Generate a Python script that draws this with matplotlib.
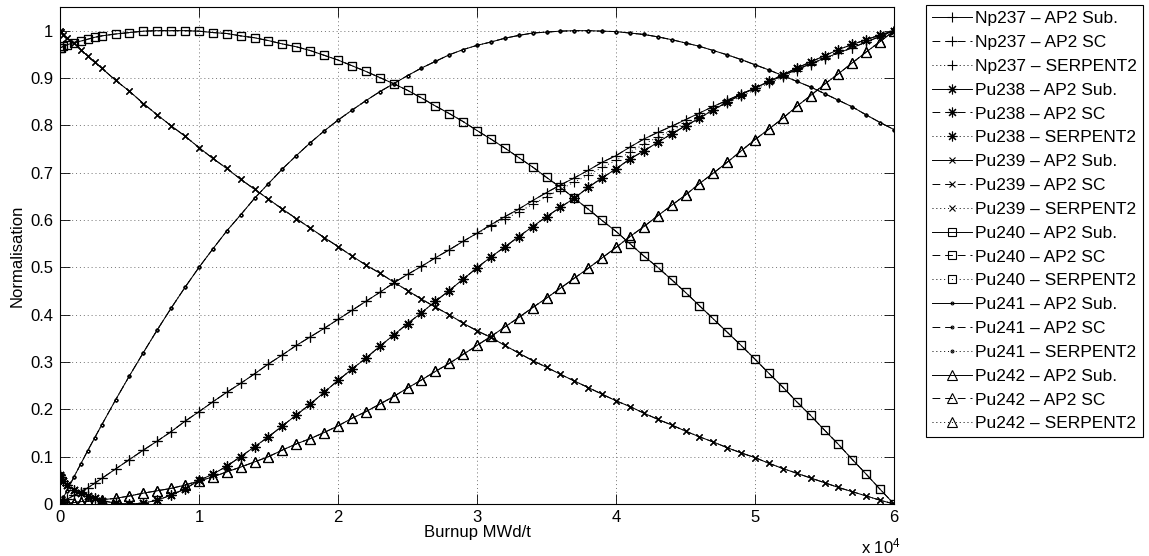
import matplotlib
matplotlib.use('Agg')
import matplotlib.pyplot as plt

plt.rcParams['font.family'] = ['Liberation Sans', 'DejaVu Sans']
plt.rcParams['font.size'] = 12
plt.rcParams['mathtext.default'] = 'regular'

# burnup steps (MWd/t)
burnup = [0, 50, 250, 500, 1000, 1500, 2000, 2500, 3000,
          4000, 5000, 6000, 7000, 8000, 9000, 10000, 11000, 12000, 13000,
          14000, 15000, 16000, 17000, 18000, 19000, 20000, 21000, 22000, 23000,
          24000, 25000, 26000, 27000, 28000, 29000, 30000, 31000, 32000, 33000,
          34000, 35000, 36000, 37000, 38000, 39000, 40000, 41000, 42000, 43000,
          44000, 45000, 46000, 47000, 48000, 49000, 50000, 51000, 52000, 53000,
          54000, 55000, 56000, 57000, 58000, 59000, 60000]

np237 = [0.0, 0.001, 0.005, 0.010, 0.018, 0.026, 0.034, 0.044, 0.054,
         0.074, 0.094, 0.114, 0.133, 0.153, 0.175, 0.195, 0.216, 0.236, 0.255,
         0.275, 0.296, 0.315, 0.335, 0.353, 0.371, 0.390, 0.409, 0.428, 0.447,
         0.467, 0.485, 0.502, 0.520, 0.537, 0.555, 0.572, 0.590, 0.607, 0.623,
         0.641, 0.658, 0.674, 0.689, 0.705, 0.722, 0.736, 0.754, 0.771, 0.785,
         0.798, 0.812, 0.826, 0.840, 0.853, 0.866, 0.879, 0.892, 0.905, 0.918,
         0.930, 0.942, 0.953, 0.964, 0.976, 0.988, 1.0]

np237_serpent = [0.0, 0.001, 0.005, 0.010, 0.018, 0.026, 0.034, 0.044, 0.054,
                 0.074, 0.094, 0.114, 0.133, 0.153, 0.175, 0.195, 0.216, 0.236, 0.255,
                 0.275, 0.296, 0.315, 0.335, 0.353, 0.371, 0.390, 0.409, 0.428, 0.447,
                 0.467, 0.485, 0.502, 0.520, 0.537, 0.555, 0.572, 0.587, 0.602, 0.617,
                 0.633, 0.649, 0.665, 0.680, 0.695, 0.711, 0.726, 0.743, 0.760, 0.775,
                 0.789, 0.804, 0.818, 0.833, 0.847, 0.861, 0.875, 0.889, 0.902, 0.915,
                 0.928, 0.940, 0.952, 0.964, 0.976, 0.988, 1.0]

pu238 = [0.061, 0.058, 0.048, 0.040, 0.030, 0.024, 0.017, 0.012, 0.007,
         0.002, 0.000, 0.002, 0.008, 0.019, 0.032, 0.050, 0.063, 0.080, 0.100,
         0.121, 0.142, 0.165, 0.188, 0.211, 0.236, 0.261, 0.285, 0.308, 0.333,
         0.357, 0.381, 0.404, 0.428, 0.451, 0.475, 0.499, 0.522, 0.543, 0.565,
         0.586, 0.607, 0.627, 0.646, 0.669, 0.689, 0.708, 0.729, 0.746, 0.764,
         0.782, 0.799, 0.815, 0.833, 0.849, 0.865, 0.879, 0.893, 0.907, 0.921,
         0.934, 0.947, 0.960, 0.971, 0.981, 0.991, 1.0]

pu239 = [1.0, 0.998, 0.991, 0.985, 0.974, 0.960, 0.946, 0.933, 0.921,
         0.895, 0.872, 0.846, 0.822, 0.799, 0.777, 0.753, 0.730, 0.709, 0.686,
         0.665, 0.644, 0.623, 0.603, 0.583, 0.563, 0.544, 0.524, 0.505, 0.488,
         0.469, 0.451, 0.433, 0.416, 0.400, 0.382, 0.366, 0.352, 0.335, 0.319,
         0.303, 0.289, 0.274, 0.260, 0.246, 0.232, 0.218, 0.206, 0.192, 0.179,
         0.167, 0.154, 0.142, 0.131, 0.119, 0.108, 0.098, 0.086, 0.075, 0.065,
         0.055, 0.045, 0.035, 0.026, 0.017, 0.008, 0.0]

pu240 = [0.963, 0.964, 0.967, 0.970, 0.975, 0.978, 0.982, 0.986, 0.989,
         0.993, 0.996, 0.999, 1.0, 1.0, 1.0, 0.999, 0.996, 0.994, 0.989,
         0.985, 0.979, 0.972, 0.966, 0.958, 0.948, 0.938, 0.926, 0.914, 0.901,
         0.888, 0.874, 0.858, 0.841, 0.825, 0.808, 0.789, 0.771, 0.752, 0.732,
         0.712, 0.690, 0.669, 0.646, 0.623, 0.599, 0.576, 0.550, 0.524, 0.500,
         0.474, 0.447, 0.419, 0.391, 0.363, 0.335, 0.306, 0.276, 0.247, 0.216,
         0.187, 0.156, 0.126, 0.094, 0.063, 0.031, 0.0]

pu241 = [0.0, 0.003, 0.014, 0.028, 0.057, 0.085, 0.113, 0.140, 0.167,
         0.220, 0.271, 0.320, 0.368, 0.414, 0.458, 0.500, 0.539, 0.577, 0.611,
         0.646, 0.677, 0.708, 0.736, 0.763, 0.788, 0.811, 0.832, 0.852, 0.871,
         0.888, 0.905, 0.921, 0.935, 0.949, 0.960, 0.969, 0.976, 0.984, 0.990,
         0.995, 0.997, 0.999, 1.0, 1.0, 0.999, 0.998, 0.995, 0.992, 0.987,
         0.981, 0.974, 0.967, 0.958, 0.949, 0.939, 0.928, 0.917, 0.905, 0.893,
         0.881, 0.867, 0.853, 0.839, 0.822, 0.806, 0.791]

pu242 = [0.0, 0.0, 0.001, 0.002, 0.003, 0.005, 0.006, 0.007, 0.009,
         0.012, 0.017, 0.023, 0.028, 0.033, 0.040, 0.049, 0.057, 0.068, 0.078,
         0.089, 0.100, 0.114, 0.127, 0.138, 0.151, 0.165, 0.181, 0.195, 0.211,
         0.227, 0.245, 0.262, 0.280, 0.297, 0.316, 0.335, 0.354, 0.374, 0.394,
         0.415, 0.435, 0.456, 0.477, 0.498, 0.520, 0.542, 0.565, 0.586, 0.609,
         0.631, 0.653, 0.677, 0.699, 0.722, 0.746, 0.770, 0.792, 0.815, 0.840,
         0.863, 0.887, 0.909, 0.932, 0.955, 0.977, 1.0]

isotopes = ['Np237', 'Pu238', 'Pu239', 'Pu240', 'Pu241', 'Pu242']
codes = ['AP2 Sub.', 'AP2 SC', 'SERPENT2']

# Sub., SC, SERPENT2 values per isotope (most overlap exactly at this scale)
curves = {
    'Np237': [np237, np237, np237_serpent],
    'Pu238': [pu238, pu238, pu238],
    'Pu239': [pu239, pu239, pu239],
    'Pu240': [pu240, pu240, pu240],
    'Pu241': [pu241, pu241, pu241],
    'Pu242': [pu242, pu242, pu242],
}

markers = {
    'Np237': ('+', 7),
    'Pu238': ((8, 2, 0), 7),
    'Pu239': ('x', 5),
    'Pu240': ('s', 5.5),
    'Pu241': ('.', 4),
    'Pu242': ('^', 6.5),
}
linestyles = ['-', (0, (8, 5)), (0, (1, 3))]

fig = plt.figure(figsize=(11.49, 5.56), dpi=100)
ax = fig.add_axes([0.0522, 0.0935, 0.7259, 0.8939])

for iso in isotopes:
    m, ms = markers[iso]
    for code, ys, ls in zip(codes, curves[iso], linestyles):
        ax.plot(burnup, ys, color='k', lw=0.7, linestyle=ls,
                marker=m, markersize=ms, markerfacecolor='none',
                markeredgecolor='k', markeredgewidth=0.8,
                label=iso + ' \u2013 ' + code)

ax.set_xlim(0, 60000)
ax.set_ylim(0, 1.05)
ax.set_xticks([0, 10000, 20000, 30000, 40000, 50000, 60000])
ax.set_xticklabels(['0', '1', '2', '3', '4', '5', '6'])
ax.set_yticks([0, 0.1, 0.2, 0.3, 0.4, 0.5, 0.6, 0.7, 0.8, 0.9, 1.0])
ax.set_yticklabels(['0', '0.1', '0.2', '0.3', '0.4', '0.5', '0.6',
                    '0.7', '0.8', '0.9', '1'])
ax.tick_params(direction='in', length=7, width=0.6, top=True, right=True)
ax.tick_params(axis='x', pad=4)
ax.tick_params(axis='y', pad=5)
ax.grid(True, color='0.45', linestyle=(0, (1, 3)), linewidth=0.7)
for s in ax.spines.values():
    s.set_linewidth(0.8)

ax.set_xlabel('Burnup MWd/t', labelpad=0.5)
ax.set_ylabel('Normalisation', labelpad=4)
ax.text(1.008, -0.085, r'x 10$^{4}$', transform=ax.transAxes,
        ha='right', va='center')

leg = ax.legend(loc='upper left', bbox_to_anchor=(926 / 1149, 1 - 5 / 556),
                bbox_transform=fig.transFigure, fancybox=False,
                edgecolor='k', framealpha=1, borderaxespad=0,
                borderpad=0.35, labelspacing=0.5, handlelength=2.3,
                handletextpad=0.2, fontsize=12.5)
leg.get_frame().set_linewidth(0.8)

fig.savefig('out.png', dpi=100)
